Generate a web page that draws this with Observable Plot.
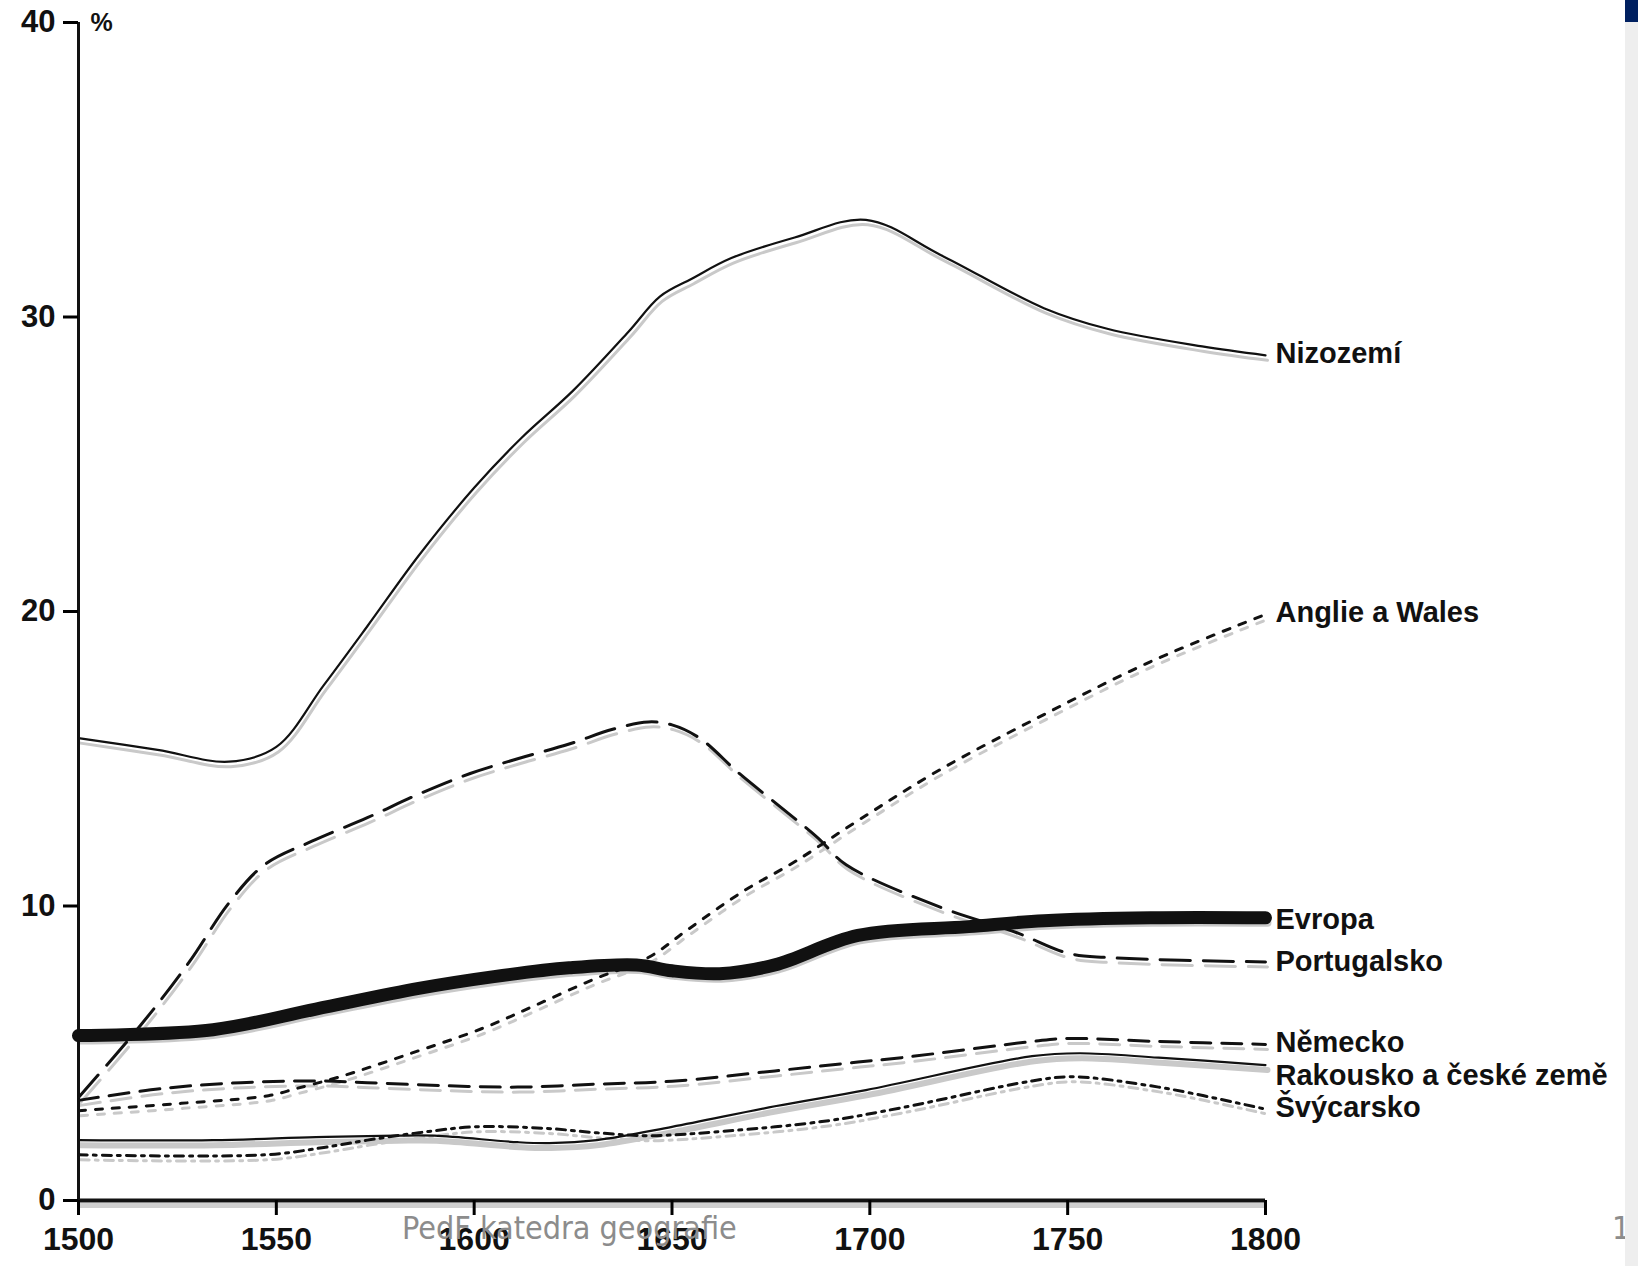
<!DOCTYPE html>
<html>
<head>
<meta charset="utf-8">
<script src="https://cdn.jsdelivr.net/npm/d3@7"></script>
<script src="https://cdn.jsdelivr.net/npm/@observablehq/plot@0.6"></script>
<style>
  html, body { margin: 0; padding: 0; background: #fff; }
  #wrap { position: relative; width: 1638px; height: 1266px; overflow: hidden; background: #fff; }
  #chart { position: absolute; left: 0; top: 0; }
  #footer { position: absolute; left: 402px; top: 1209px; font-family: "DejaVu Sans Condensed", "DejaVu Sans", sans-serif; font-size: 32px; color: #8c8c8c; white-space: nowrap; }
  #slidenum { position: absolute; left: 1612px; top: 1209px; font-family: "DejaVu Sans Condensed", "DejaVu Sans", sans-serif; font-size: 32px; color: #8c8c8c; }
  #strip { position: absolute; left: 1625px; top: 22px; width: 13px; height: 1244px; background: #eeeeee; }
  #blue { position: absolute; left: 1625px; top: 0; width: 13px; height: 22px; background: #002060; }
</style>
</head>
<body>
<div id="wrap">
  <div id="chart"></div>
  <div id="footer">PedF katedra geografie</div>
  <div id="slidenum">1</div>
  <div id="strip"></div>
  <div id="blue"></div>
</div>
<script>
// ---- Data (percent of urban population) ----
const xTicks = [1500, 1550, 1600, 1650, 1700, 1750, 1800];
const yTicks = [0, 10, 20, 30, 40];

const nizYears  = [1500, 1520, 1538, 1550, 1562, 1573, 1586, 1600, 1612, 1625, 1639, 1647, 1655, 1665, 1681, 1699, 1718, 1744, 1760, 1784, 1800];
const nizValues = [15.7, 15.3, 14.9, 15.4, 17.5, 19.5, 21.9, 24.2, 25.9, 27.5, 29.5, 30.7, 31.3, 32.0, 32.7, 33.3, 32.1, 30.3, 29.6, 29.0, 28.7];

const angYears  = [1500, 1526, 1548, 1555, 1566, 1583, 1602, 1615, 1630, 1644, 1654, 1668, 1681, 1697, 1718, 1744, 1771, 1800];
const angValues = [3.05, 3.3, 3.56, 3.8, 4.2, 4.95, 5.84, 6.6, 7.5, 8.25, 9.2, 10.5, 11.5, 12.9, 14.65, 16.5, 18.3, 19.9];

const porYears  = [1500, 1516, 1528, 1538, 1547, 1559, 1573, 1586, 1599, 1611, 1624, 1635, 1644, 1650, 1657, 1667, 1678, 1687, 1694, 1718, 1737, 1750, 1760, 1800];
const porValues = [3.5, 6.0, 8.1, 10.1, 11.4, 12.2, 13.0, 13.8, 14.5, 15.0, 15.5, 16.0, 16.25, 16.15, 15.7, 14.5, 13.3, 12.3, 11.4, 9.95, 9.1, 8.4, 8.25, 8.1];

const evrYears  = [1500, 1534, 1560, 1586, 1605, 1624, 1641, 1650, 1662, 1676, 1697, 1725, 1744, 1771, 1800];
const evrValues = [5.6, 5.8, 6.5, 7.2, 7.6, 7.9, 8.0, 7.8, 7.7, 8.0, 9.0, 9.3, 9.5, 9.6, 9.6];

const nemYears  = [1500, 1521, 1541, 1560, 1573, 1592, 1611, 1631, 1650, 1676, 1697, 1708, 1741, 1749, 1773, 1800];
const nemValues = [3.4, 3.8, 4.0, 4.06, 4.0, 3.9, 3.85, 3.95, 4.05, 4.4, 4.7, 4.85, 5.4, 5.5, 5.4, 5.3];

const rakYears  = [1500, 1534, 1560, 1580, 1590, 1611, 1619, 1631, 1650, 1676, 1699, 1741, 1753, 1773, 1800];
const rakValues = [2.05, 2.05, 2.15, 2.2, 2.2, 1.98, 1.95, 2.05, 2.5, 3.2, 3.75, 4.9, 5.0, 4.85, 4.6];

const svyYears  = [1500, 1547, 1562, 1573, 1586, 1600, 1618, 1631, 1644, 1663, 1689, 1708, 1741, 1751, 1773, 1800];
const svyValues = [1.55, 1.55, 1.8, 2.05, 2.3, 2.5, 2.45, 2.3, 2.2, 2.35, 2.7, 3.15, 4.06, 4.2, 3.85, 3.1];

const labelNames  = ["Nizozemí", "Anglie a Wales", "Evropa", "Portugalsko", "Německo", "Rakousko a české země", "Švýcarsko"];
const labelValues = [28.75, 19.95, 9.55, 8.1, 5.35, 4.25, 3.15];

// ---- Build tables ----
const zip = (ys, vs) => ys.map((y, i) => ({year: y, value: vs[i]}));
const series = [
  {data: zip(nizYears, nizValues), w: 2.2, dash: null,        shadowW: 3},
  {data: zip(angYears, angValues), w: 3,   dash: "7,10",      shadowW: 3},
  {data: zip(porYears, porValues), w: 3,   dash: "30,13",     shadowW: 3},
  {data: zip(evrYears, evrValues), w: 13,  dash: null,        shadowW: 8},
  {data: zip(nemYears, nemValues), w: 3,   dash: "20,11",     shadowW: 3},
  {data: zip(rakYears, rakValues), w: 2.2, dash: null,        shadowW: 6},
  {data: zip(svyYears, svyValues), w: 3,   dash: "9,6,3,6",   shadowW: 3}
];
const labels = labelNames.map((n, i) => ({name: n, year: 1800, value: labelValues[i]}));

const font = "'Liberation Sans', Arial, Helvetica, sans-serif";
const marks = [];

// scan shadows
for (const s of series) {
  marks.push(Plot.line(s.data, {x: "year", y: "value", curve: "catmull-rom", stroke: "#c9c9c9",
    strokeWidth: s.shadowW, dy: 5, dx: 2, strokeDasharray: s.dash || undefined}));
}
// axes lines
marks.push(Plot.ruleY([0], {stroke: "#cfcfcf", strokeWidth: 5, dy: 5}));
marks.push(Plot.ruleX([1500], {stroke: "#111", strokeWidth: 3}));
marks.push(Plot.ruleY([0], {stroke: "#111", strokeWidth: 4}));
marks.push(Plot.axisY(yTicks, {tickSize: 15, tickPadding: 8, strokeWidth: 3, fontSize: 31, fontWeight: "bold", fill: "#111", label: null}));
marks.push(Plot.axisX(xTicks, {tickSize: 15, tickPadding: 12, strokeWidth: 3, fontSize: 32, fontWeight: "bold", fill: "#111", label: null, tickFormat: d => String(d)}));
marks.push(Plot.text(["%"], {x: 1500, y: 40, text: d => d, dx: 12, textAnchor: "start", fontSize: 25, fontWeight: "bold", fill: "#111"}));

// main lines
for (const s of series) {
  marks.push(Plot.line(s.data, {x: "year", y: "value", curve: "catmull-rom", stroke: "#111",
    strokeWidth: s.w, strokeDasharray: s.dash || undefined}));
}
// labels
marks.push(Plot.text(labels, {x: "year", y: "value", text: "name", dx: 10, textAnchor: "start",
  fontSize: 29, fontWeight: "bold", fill: "#111"}));

const chart = Plot.plot({
  width: 1638,
  height: 1266,
  marginLeft: 78,
  marginRight: 373,
  marginTop: 22,
  marginBottom: 66,
  style: {fontFamily: font, background: "transparent", overflow: "visible"},
  x: {domain: [1500, 1800], axis: null},
  y: {domain: [0, 40], axis: null},
  marks
});
document.getElementById("chart").appendChild(chart);
</script>
</body>
</html>
